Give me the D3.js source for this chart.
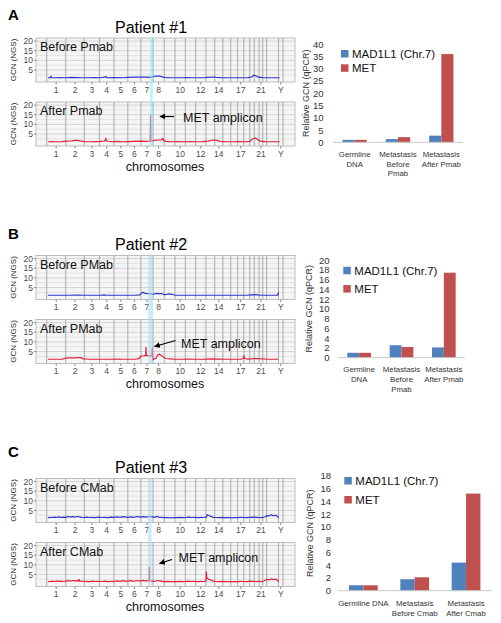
<!DOCTYPE html>
<html><head><meta charset="utf-8">
<script src="https://cdn.jsdelivr.net/npm/d3@7"></script>
<style>body{margin:0;background:#fff} svg{display:block;font-family:"Liberation Sans",Arial,sans-serif}</style>
</head><body><svg id="c" width="501" height="623"></svg>
<script>
// ---------- DATA ----------
const chromNames = ["1","2","3","4","5","6","7","8","9","10","11","12","13","14","15","16","17","18","19","20","21","22","X","Y"];
const chromLengthsMb = [249,243,198,191,181,171,159,146,141,136,135,134,115,107,103,90,81,78,59,63,48,51,155,59];
const chromShown = ["1","2","3","4","5","6","7","8","10","12","14","17","21","Y"];
const gcnTicks = [5,10,15,20];
const gcnMinor = [2.5,7.5,12.5,17.5];

// genome position (Mb, cumulative) , GCN
const p1Before = [[15,1.0],[40,1.0],[55,1.7],[58,1.0],[120,1.0],[180,1.1],[249,1.0],[320,1.2],[400,1.1],[460,1.0],[540,1.0],[620,1.1],[700,1.0],[760,1.3],[775,1.6],[785,1.0],[850,1.1],[920,1.1],[1000,1.0],[1062,1.2],[1150,1.3],[1233,1.3],[1300,1.3],[1360,1.2],[1392,1.5],[1430,1.9],[1480,1.8],[1538,1.2],[1600,1.0],[1680,1.0],[1760,1.0],[1830,1.1],[1900,1.0],[1980,1.0],[2060,1.0],[2100,1.2],[2180,1.4],[2220,1.2],[2300,1.0],[2400,1.0],[2480,1.0],[2560,1.0],[2640,1.1],[2690,1.5],[2710,2.3],[2740,2.0],[2770,1.3],[2830,1.1],[2900,1.0],[2980,1.0],[3050,1.0]];
const p1After = [[15,1.0],[60,1.1],[120,1.0],[200,1.1],[260,1.3],[330,1.5],[380,1.8],[430,1.5],[492,1.1],[560,1.0],[640,1.1],[700,1.2],[760,1.4],[775,2.6],[785,1.4],[850,1.0],[930,1.2],[1000,1.0],[1062,1.1],[1130,1.2],[1233,1.3],[1300,1.2],[1356,1.4],[1360,15.0],[1364,1.4],[1392,1.6],[1450,1.9],[1500,2.0],[1520,2.8],[1530,1.6],[1560,1.2],[1640,1.0],[1720,1.1],[1800,1.0],[1880,1.1],[1960,1.0],[2040,1.1],[2110,1.3],[2180,1.9],[2230,1.7],[2270,1.2],[2350,1.0],[2440,1.0],[2520,1.1],[2600,1.0],[2660,1.2],[2700,2.6],[2730,3.0],[2760,2.2],[2790,1.3],[2860,1.1],[2940,1.0],[3000,1.0],[3050,1.0]];
const p2Before = [[15,1.0],[100,1.0],[200,1.0],[300,1.0],[400,1.1],[492,1.0],[600,1.0],[700,1.0],[760,1.2],[765,1.0],[850,1.0],[950,1.0],[1062,1.0],[1150,1.0],[1220,1.2],[1240,2.2],[1260,2.5],[1290,2.0],[1330,1.8],[1360,1.7],[1392,1.4],[1410,1.8],[1440,2.0],[1470,1.8],[1500,1.9],[1538,1.3],[1570,1.4],[1600,1.7],[1640,1.5],[1679,1.0],[1760,1.0],[1850,1.0],[1950,1.0],[2050,1.0],[2150,1.0],[2250,1.0],[2350,1.0],[2450,1.0],[2550,1.0],[2640,1.1],[2700,1.3],[2760,1.2],[2800,1.0],[2880,1.0],[2960,1.0],[3020,1.0],[3030,2.0],[3035,1.2]];
const p2After = [[15,1.0],[100,1.0],[200,1.0],[249,1.6],[300,1.7],[360,1.7],[420,1.9],[450,1.8],[480,1.2],[560,1.0],[650,1.0],[740,1.0],[830,1.0],[920,1.1],[1000,1.0],[1062,1.0],[1150,1.0],[1210,1.3],[1230,2.6],[1270,2.8],[1296,3.0],[1300,7.3],[1304,3.0],[1330,2.8],[1360,2.5],[1378,3.0],[1382,7.0],[1386,2.5],[1392,0.8],[1430,1.5],[1455,3.3],[1475,3.6],[1500,3.0],[1530,2.0],[1560,1.4],[1620,1.2],[1679,1.0],[1760,1.0],[1850,1.1],[1950,1.0],[2050,1.0],[2150,1.2],[2250,1.1],[2350,1.0],[2450,1.0],[2540,1.0],[2570,1.4],[2583,2.6],[2590,1.4],[2640,1.1],[2700,1.3],[2760,1.4],[2820,1.2],[2900,1.0],[2980,1.0],[3030,1.0]];
const p3Before = [[15,1.3],[40,1.5],[70,1.4],[100,1.6],[130,1.5],[160,1.7],[190,1.5],[220,1.6],[249,1.5],[280,1.9],[310,1.6],[340,1.8],[370,1.6],[400,1.9],[430,1.7],[460,1.5],[492,1.4],[520,1.6],[560,1.4],[600,1.5],[640,1.3],[680,1.6],[720,1.4],[760,1.5],[800,1.3],[840,1.6],[881,1.5],[920,1.7],[960,1.5],[1000,1.8],[1040,1.6],[1062,1.5],[1100,1.7],[1140,1.5],[1180,1.9],[1220,1.6],[1260,1.8],[1300,1.6],[1340,1.9],[1380,1.7],[1410,1.5],[1440,2.0],[1470,1.6],[1500,1.5],[1540,1.3],[1580,1.4],[1620,1.2],[1660,1.4],[1700,1.3],[1740,1.5],[1780,1.3],[1820,1.4],[1860,1.6],[1900,1.4],[1940,1.5],[1980,1.3],[2020,1.5],[2060,1.4],[2090,1.6],[2100,2.8],[2120,2.4],[2150,2.0],[2180,1.5],[2220,1.4],[2260,1.3],[2300,1.5],[2340,1.3],[2380,1.4],[2420,1.2],[2460,1.4],[2500,1.3],[2540,1.5],[2580,1.4],[2620,1.3],[2660,1.5],[2700,1.6],[2740,1.5],[2780,1.4],[2820,1.3],[2860,1.8],[2880,2.4],[2910,2.2],[2940,2.8],[2970,2.3],[3000,2.6],[3020,2.0],[3035,1.2]];
const p3After = [[15,1.3],[40,1.4],[70,1.6],[100,1.4],[130,1.7],[160,1.5],[190,1.6],[220,1.4],[249,1.6],[280,1.8],[310,1.6],[340,1.9],[370,1.7],[400,1.8],[418,1.6],[423,2.6],[428,1.7],[460,1.6],[492,1.4],[520,1.5],[560,1.3],[600,1.6],[640,1.4],[680,1.5],[720,1.4],[760,1.6],[800,1.3],[840,1.5],[881,1.4],[920,1.7],[960,1.5],[1000,1.8],[1040,1.5],[1062,1.6],[1100,1.8],[1140,1.5],[1180,1.9],[1220,1.6],[1260,2.0],[1300,1.7],[1339,1.8],[1343,9.0],[1347,1.7],[1392,1.6],[1420,1.4],[1450,1.9],[1480,1.7],[1510,1.5],[1540,1.3],[1580,1.5],[1620,1.3],[1660,1.4],[1700,1.3],[1740,1.5],[1780,1.3],[1820,1.4],[1860,1.6],[1900,1.4],[1940,1.5],[1980,1.3],[2020,1.5],[2060,1.4],[2085,1.6],[2090,6.5],[2096,3.2],[2120,2.6],[2150,2.2],[2180,1.6],[2220,1.4],[2260,1.3],[2300,1.5],[2340,1.3],[2380,1.4],[2420,1.3],[2460,1.4],[2500,1.3],[2540,1.5],[2580,1.4],[2620,1.3],[2660,1.6],[2700,1.5],[2740,1.4],[2780,1.5],[2820,1.3],[2860,2.0],[2880,2.5],[2910,2.2],[2940,2.7],[2970,2.4],[3000,2.6],[3020,2.1],[3035,1.2]];

const metBandA = [1350,1388];
const metBandB = [1328,1392];
const metBandC = [1326,1374];

// qPCR bar data
const seriesNames = ["MAD1L1 (Chr.7)","MET"];
const catsA = [["Germline","DNA"],["Metastasis","Before","Pmab"],["Metastasis","After Pmab"]];
const madA = [1.0, 1.3, 2.7];
const metA = [1.0, 2.1, 35.9];
const ticksA = [0,5,10,15,20,25,30,35,40];
const catsB = [["Germline","DNA"],["Metastasis","Before","Pmab"],["Metastasis","After Pmab"]];
const madB = [1.0, 2.55, 2.1];
const metB = [1.0, 2.2, 17.4];
const ticksB = [0,2,4,6,8,10,12,14,16,18,20];
const catsC = [["Germline DNA"],["Metastasis","Before Cmab"],["Metastasis","After Cmab"]];
const madC = [0.85, 1.8, 4.4];
const metC = [0.85, 2.1, 15.2];
const ticksC = [0,2,4,6,8,10,12,14,16,18];

// ---------- DRAW ----------
const svg = d3.select("#c");
const FONT = '"Liberation Sans",Arial,sans-serif';
const chromStarts = d3.cumsum([0].concat(chromLengthsMb)).slice(0, chromLengthsMb.length);
const chromBounds = d3.cumsum([0].concat(chromLengthsMb));
const xs = d3.scaleLinear().domain([-140, 3250]).range([36, 295]);

function drawGenome(L) {
  const T = L.top;
  const g = svg.append("g");
  g.append("text").attr("x", 8).attr("y", L.letterY).attr("font-size", 15).attr("font-weight", "bold").text(L.letter);
  g.append("text").attr("x", 151).attr("y", T - 5.5).attr("text-anchor", "middle").attr("font-size", 16).text(L.title);
  const panels = [
    {top: T, data: L.before, label: L.labelBefore, color: "#3434cc"},
    {top: T + 64, data: L.after, label: L.labelAfter, color: "#e0223e"}
  ];
  panels.forEach(p => {
    const ys = d3.scaleLinear().domain([-1.2, 21.6]).range([p.top + 44, p.top]);
    g.append("rect").attr("x", 36).attr("y", p.top).attr("width", 259).attr("height", 44).attr("fill", "#f5f5f5");
    g.selectAll(null).data(gcnMinor).enter().append("line")
      .attr("x1", 36).attr("x2", 295).attr("y1", d => ys(d)).attr("y2", d => ys(d))
      .attr("stroke", "#e0e0e0").attr("stroke-width", 0.8);
    g.selectAll(null).data(gcnTicks).enter().append("line")
      .attr("x1", 36).attr("x2", 295).attr("y1", d => ys(d)).attr("y2", d => ys(d))
      .attr("stroke", "#cfcfcf").attr("stroke-width", 0.9);
    g.selectAll(null).data(chromBounds).enter().append("line")
      .attr("x1", d => xs(d)).attr("x2", d => xs(d)).attr("y1", p.top).attr("y2", p.top + 44)
      .attr("stroke", "#a2a2a2").attr("stroke-width", 0.9);
    g.append("path").datum(p.data)
      .attr("d", d3.line().x(d => xs(d[0])).y(d => ys(d[1])))
      .attr("fill", "none").attr("stroke", p.color).attr("stroke-width", 1.2);
    g.append("rect").attr("x", 36).attr("y", p.top).attr("width", 259).attr("height", 44)
      .attr("fill", "none").attr("stroke", "#b0b0b0").attr("stroke-width", 0.8);
    g.selectAll(null).data(gcnTicks).enter().append("text")
      .attr("x", 33).attr("y", d => ys(d) + 3).attr("text-anchor", "end")
      .attr("font-size", 8.5).attr("fill", "#4d4d4d").text(d => d);
    g.selectAll(null).data(gcnTicks).enter().append("line")
      .attr("x1", 34).attr("x2", 36).attr("y1", d => ys(d)).attr("y2", d => ys(d)).attr("stroke", "#888");
    const shown = chromShown.map(n => { const i = chromNames.indexOf(n); return {n, c: chromStarts[i] + chromLengthsMb[i] / 2}; });
    g.selectAll(null).data(shown).enter().append("text")
      .attr("x", d => xs(d.c)).attr("y", p.top + 54.5).attr("text-anchor", "middle")
      .attr("font-size", 8.5).attr("fill", "#4d4d4d").text(d => d.n);
    g.selectAll(null).data(shown).enter().append("line")
      .attr("x1", d => xs(d.c)).attr("x2", d => xs(d.c)).attr("y1", p.top + 44).attr("y2", p.top + 46.5).attr("stroke", "#888");
    g.append("text").attr("transform", `translate(${16},${p.top + 22}) rotate(-90)`)
      .attr("text-anchor", "middle").attr("font-size", 8).attr("fill", "#222").text("GCN (NGS)");
    g.append("text").attr("x", 40).attr("y", p.top + 13).attr("font-size", 12.5).attr("fill", "#111").text(p.label);
  });
  // MET highlight band spanning both panels
  g.append("rect").attr("x", xs(L.band[0])).attr("y", T).attr("width", xs(L.band[1]) - xs(L.band[0])).attr("height", 108)
    .attr("fill", L.bandColor).attr("opacity", 0.55);
  // annotation
  g.append("text").attr("x", L.annX).attr("y", L.annY).attr("font-size", 12.5).attr("fill", "#111").text("MET amplicon");
  g.append("line").attr("x1", L.arrow[0]).attr("y1", L.arrow[1]).attr("x2", L.arrow[2]).attr("y2", L.arrow[3])
    .attr("stroke", "#000").attr("stroke-width", 1.2).attr("marker-end", "url(#ah)");
  g.append("text").attr("x", 165).attr("y", T + 132.5).attr("text-anchor", "middle").attr("font-size", 12.5).attr("fill", "#111").text("chromosomes");
}

svg.append("defs").append("marker").attr("id", "ah").attr("viewBox", "0 0 10 10").attr("refX", 9).attr("refY", 5)
  .attr("markerWidth", 5).attr("markerHeight", 5).attr("orient", "auto")
  .append("path").attr("d", "M0,0L10,5L0,10z").attr("fill", "#000");

drawGenome({top: 38, letter: "A", letterY: 20, title: "Patient #1", before: p1Before, after: p1After,
  labelBefore: "Before Pmab", labelAfter: "After Pmab", band: metBandA, bandColor: "#7ff0f4",
  annX: 183, annY: 122, arrow: [174, 116.5, 160, 116.5]});
drawGenome({top: 255.5, letter: "B", letterY: 239, title: "Patient #2", before: p2Before, after: p2After,
  labelBefore: "Before PMab", labelAfter: "After PMab", band: metBandB, bandColor: "#a6dcf0",
  annX: 181, annY: 347.5, arrow: [175.5, 340.5, 154.5, 346.5]});
drawGenome({top: 478.5, letter: "C", letterY: 457, title: "Patient #3", before: p3Before, after: p3After,
  labelBefore: "Before CMab", labelAfter: "After CMab", band: metBandC, bandColor: "#a6dcf0",
  annX: 178.5, annY: 562, arrow: [172, 559.5, 159.5, 563.5]});

function drawBars(L) {
  const g = svg.append("g");
  const y = d3.scaleLinear().domain([0, L.max]).range([L.y0, L.y1]);
  const x0 = d3.scaleBand().domain(d3.range(L.cats.length)).range([L.x0, L.x1]);
  const bw = x0.bandwidth();
  const x1 = d3.scaleBand().domain([0, 1]).range([bw * 0.22, bw * 0.78]);
  const colors = ["#4F81BD", "#C0504D"];
  const vals = [L.mad, L.met];
  vals.forEach((arr, s) => {
    g.selectAll(null).data(arr).enter().append("rect")
      .attr("x", (d, i) => x0(i) + x1(s)).attr("width", x1.bandwidth())
      .attr("y", d => y(d)).attr("height", d => y(0) - y(d)).attr("fill", colors[s]);
  });
  g.append("line").attr("x1", L.x0).attr("x2", L.x1).attr("y1", y(0)).attr("y2", y(0)).attr("stroke", "#c8c8c8");
  const ax = g.append("g").attr("transform", `translate(${L.tickX},0)`)
    .call(d3.axisLeft(y).tickValues(L.ticks).tickSize(0).tickPadding(0));
  ax.select(".domain").remove();
  ax.selectAll("text").attr("font-size", 9.5).attr("font-family", FONT).attr("fill", "#333");
  g.append("text").attr("transform", `translate(${L.titleX},${(L.y0 + L.y1) / 2}) rotate(-90)`)
    .attr("text-anchor", "middle").attr("font-size", 9).attr("fill", "#333").text("Relative GCN (qPCR)");
  L.cats.forEach((lines, i) => {
    const t = g.append("text").attr("text-anchor", "middle").attr("font-size", 7.8).attr("fill", "#333")
      .attr("x", x0(i) + bw / 2).attr("y", y(0) + L.catDy);
    lines.forEach((ln, k) => t.append("tspan").attr("x", x0(i) + bw / 2).attr("dy", k === 0 ? 0 : 9.8).text(ln));
  });
  seriesNames.forEach((nm, s) => {
    g.append("rect").attr("x", L.legX).attr("y", L.legY + s * L.legGap).attr("width", 7.5).attr("height", 7.5).attr("fill", colors[s]);
    g.append("text").attr("x", L.legX + 11).attr("y", L.legY + s * L.legGap + 8).attr("font-size", 11.5).attr("fill", "#111").text(nm);
  });
}

drawBars({cats: catsA, mad: madA, met: metA, ticks: ticksA, max: 40, y0: 142.3, y1: 44, x0: 333, x1: 463,
  tickX: 323.5, titleX: 309, catDy: 14.5, legX: 341, legY: 50, legGap: 14.3});
drawBars({cats: catsB, mad: madB, met: metB, ticks: ticksB, max: 20, y0: 357.7, y1: 260, x0: 338, x1: 465,
  tickX: 329.5, titleX: 312, catDy: 14.5, legX: 343.3, legY: 266.8, legGap: 18.3});
drawBars({cats: catsC, mad: madC, met: metC, ticks: ticksC, max: 18, y0: 590.7, y1: 475.7, x0: 337.7, x1: 491.7,
  tickX: 331, titleX: 312.5, catDy: 15, legX: 344.3, legY: 477, legGap: 19});
</script></body></html>
